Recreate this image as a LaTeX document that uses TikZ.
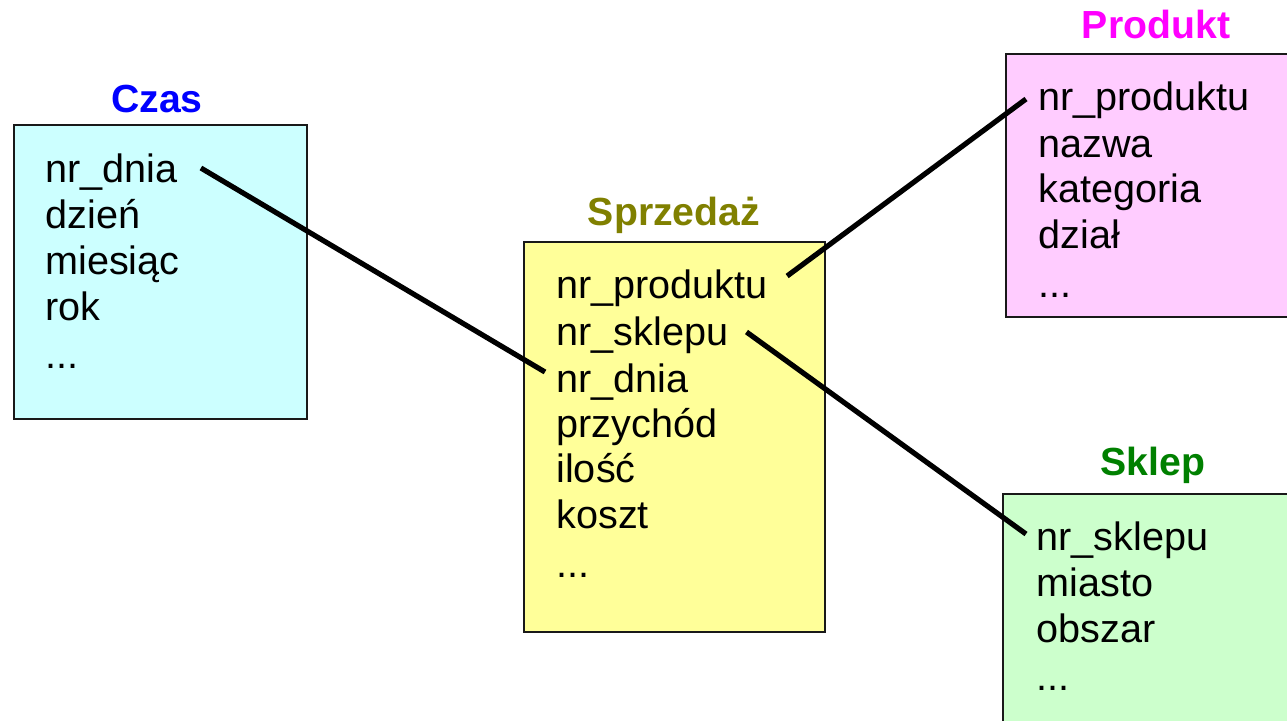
\documentclass[tikz,border=0pt]{standalone}
\usepackage{fontspec}
\setmainfont{Liberation Sans}
\usetikzlibrary{calc}
\definecolor{czasfill}{HTML}{CCFFFF}
\definecolor{sprzfill}{HTML}{FFFF99}
\definecolor{prodfill}{HTML}{FFCCFF}
\definecolor{sklepfill}{HTML}{CCFFCC}
\definecolor{czastitle}{HTML}{0000FF}
\definecolor{sprztitle}{HTML}{808000}
\definecolor{prodtitle}{HTML}{FF00FF}
\definecolor{skleptitle}{HTML}{008000}
\tikzset{
  table/.style={draw=black!90, line width=1.3pt, anchor=north west, inner sep=0pt, outer sep=0pt},
  title/.style={anchor=base, inner sep=0pt, font=\fontsize{19.6}{23}\selectfont\bfseries},
  field/.style={anchor=base west, inner sep=0pt, font=\fontsize{19.8}{23}\selectfont},
  link/.style={line width=2.6pt, line cap=butt}
}
\begin{document}
\begin{tikzpicture}[x=0.5pt,y=-0.5pt]
\clip (0,0) rectangle (1287,720);
\fill[white] (0,0) rectangle (1287,720);

% table boxes
\node[table, fill=czasfill,  minimum width=146.5pt, minimum height=147pt] (czas) at (14,125) {};
\node[table, fill=sprzfill,  minimum width=150.5pt, minimum height=195pt] (sprz) at (524,242) {};
\node[table, fill=prodfill,  minimum width=160pt,   minimum height=131.5pt] (prod) at (1006,54) {};
\node[table, fill=sklepfill, minimum width=160pt,   minimum height=160pt] (sklep) at (1003,494) {};

% titles
\node[title, text=czastitle]  (tczas)  at (157,112) {Czas};
\node[title, text=sprztitle]  (tsprz)  at (674,225) {Sprzedaż};
\node[title, text=prodtitle]  (tprod)  at (1156,38) {Produkt};
\node[title, text=skleptitle] (tsklep) at (1153,475) {Sklep};

% Czas fields
\node[field] (cz1) at (45,182) {nr\_dnia};
\node[field] (cz2) at (45,228) {dzień};
\node[field] (cz3) at (45,274) {miesiąc};
\node[field] (cz4) at (45,320) {rok};
\node[field] (cz5) at (45,368) {...};

% Sprzedaż fields
\node[field] (sp1) at (556,298) {nr\_produktu};
\node[field] (sp2) at (556,345) {nr\_sklepu};
\node[field] (sp3) at (556,392) {nr\_dnia};
\node[field] (sp4) at (556,437) {przychód};
\node[field] (sp5) at (556,482) {ilość};
\node[field] (sp6) at (556,528) {koszt};
\node[field] (sp7) at (556,577) {...};

% Produkt fields
\node[field] (pr1) at (1038,110) {nr\_produktu};
\node[field] (pr2) at (1038,157) {nazwa};
\node[field] (pr3) at (1038,202) {kategoria};
\node[field] (pr4) at (1038,248) {dział};
\node[field] (pr5) at (1038,297) {...};

% Sklep fields
\node[field] (sk1) at (1036,550) {nr\_sklepu};
\node[field] (sk2) at (1036,596) {miasto};
\node[field] (sk3) at (1036,642) {obszar};
\node[field] (sk4) at (1036,690) {...};

% key links
\draw[link] ($(cz1.base east)+(23,-14)$) -- ($(sp3.base west)+(-11,-20)$);
\draw[link] ($(sp1.base east)+(19,-22)$) -- ($(pr1.base west)+(-12,-11)$);
\draw[link] ($(sp2.base east)+(18,-13)$) -- ($(sk1.base west)+(-10,-16)$);
\end{tikzpicture}
\end{document}
